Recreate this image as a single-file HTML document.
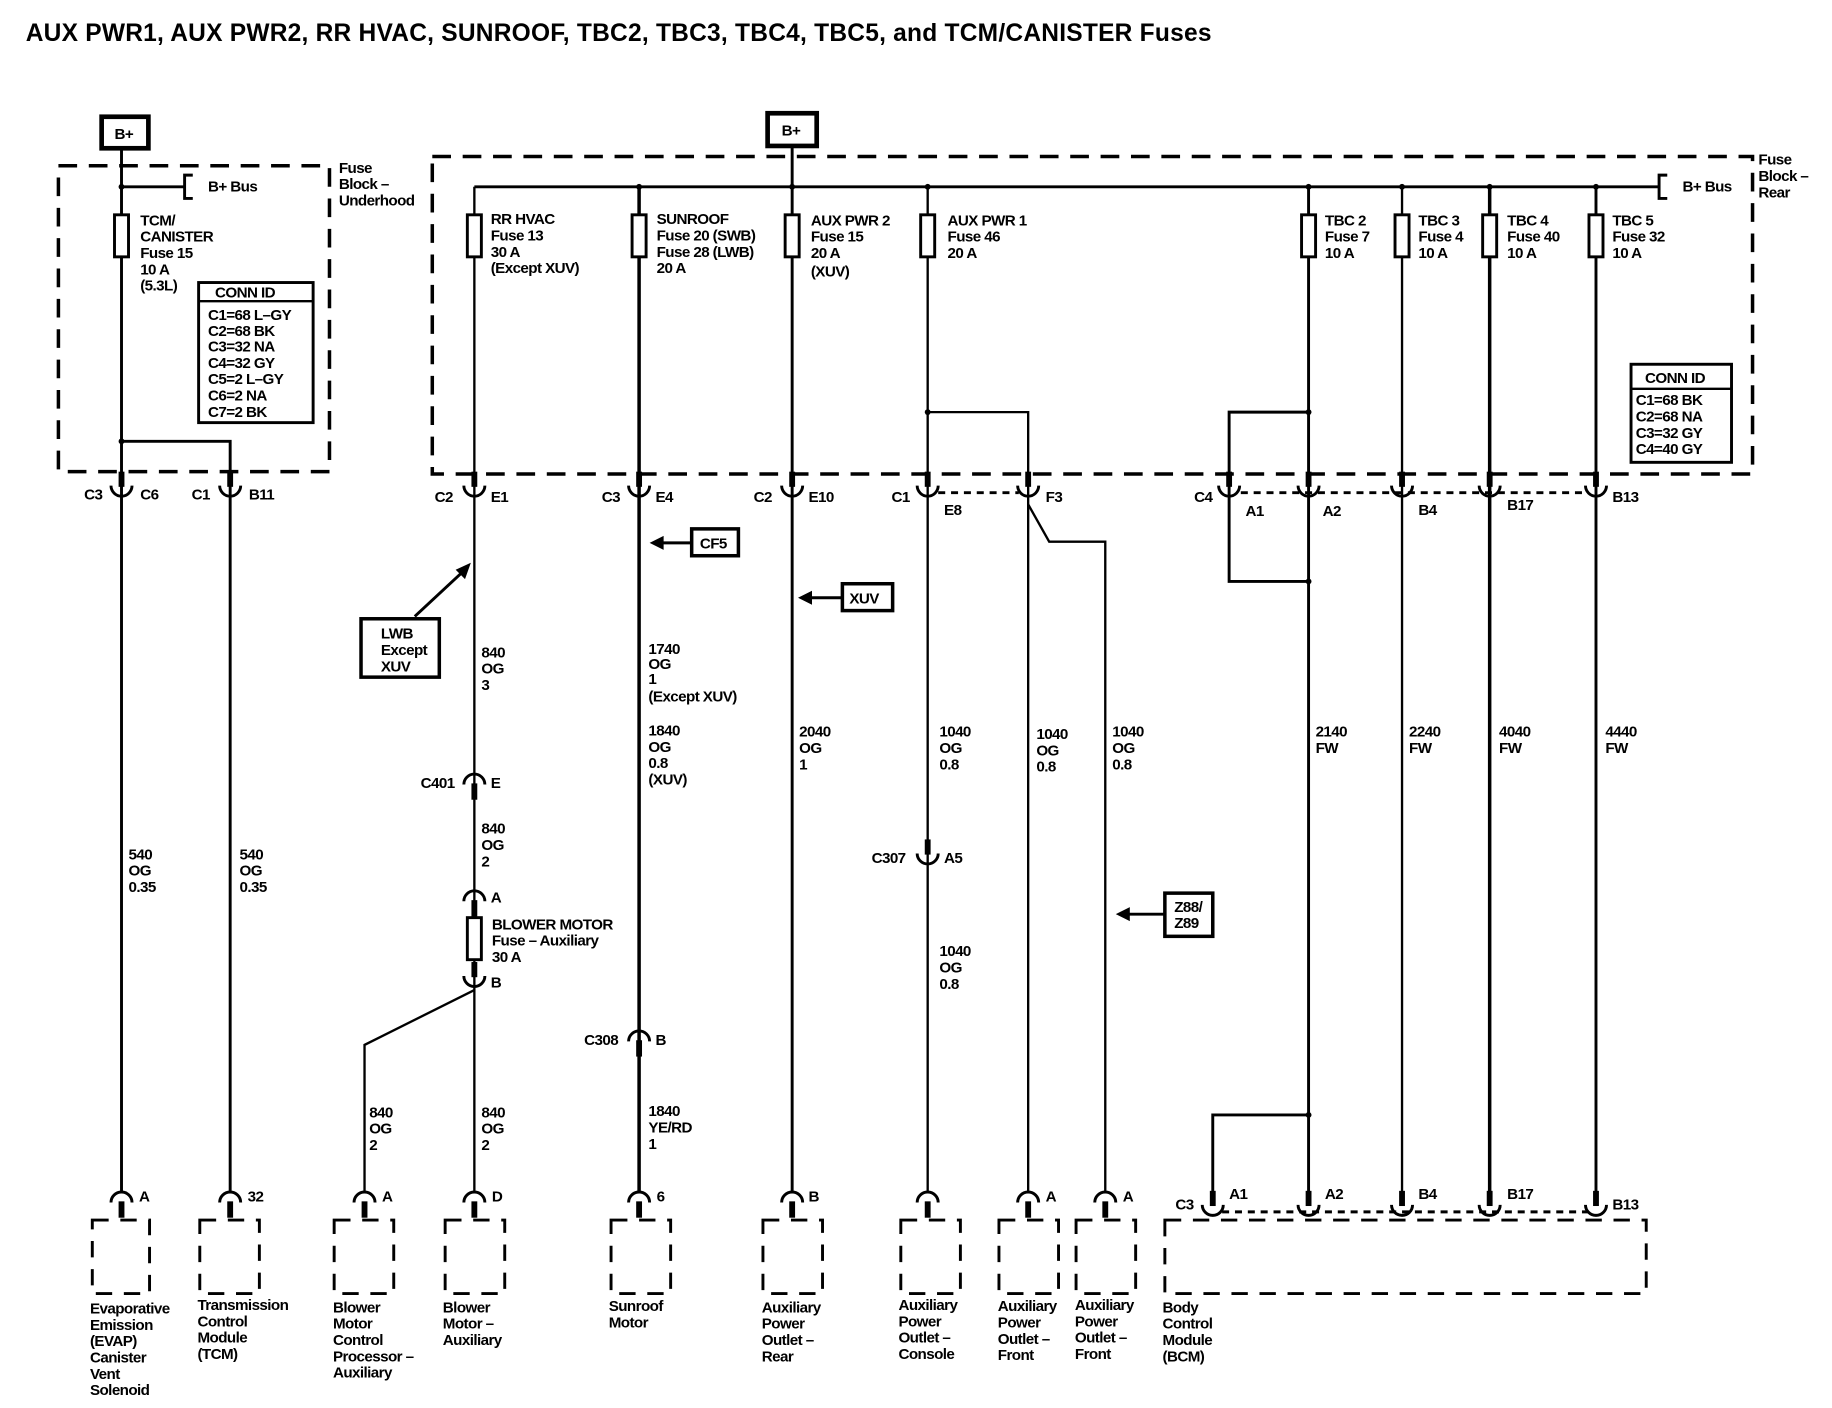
<!DOCTYPE html>
<html><head><meta charset="utf-8"><style>
html,body{margin:0;padding:0;background:#fff}
svg{display:block}
text{font-family:"Liberation Sans",sans-serif;font-size:13px;font-weight:bold;fill:#000;letter-spacing:-0.5px}
.t{font-size:21px;font-weight:bold;letter-spacing:0.2px}
</style></head><body>
<svg width="1832" height="1408" viewBox="0 0 1568 1206" preserveAspectRatio="none" xmlns="http://www.w3.org/2000/svg">
<defs>
<g id="cup"><rect x="-2.5" y="-16" width="5" height="13" fill="#000"/><path d="M-9,-4 A9 9 0 0 0 9,-4" fill="none" stroke="#000" stroke-width="2.5"/></g>
<g id="cap"><path d="M-9,4 A9 9 0 0 1 9,4" fill="none" stroke="#000" stroke-width="2.5"/><rect x="-2.5" y="3" width="5" height="14" fill="#000"/></g>
<g id="fuse"><rect x="-6" y="0" width="12" height="36" fill="#fff" stroke="#000" stroke-width="2.5"/></g>
</defs>
<text x="22" y="35" class="t">AUX PWR1, AUX PWR2, RR HVAC, SUNROOF, TBC2, TBC3, TBC4, TBC5, and TCM/CANISTER Fuses</text>

<rect x="87" y="100" width="40" height="27" fill="#fff" stroke="#000" stroke-width="4"/>
<text x="98" y="119">B+</text>
<rect x="657" y="97" width="42" height="28" fill="#fff" stroke="#000" stroke-width="4"/>
<text x="669" y="116">B+</text>

<g fill="none" stroke="#000">
<rect x="50" y="142" width="232" height="262" stroke-width="3" stroke-dasharray="16 10"/>
<rect x="370" y="134" width="1130" height="272" stroke-width="3" stroke-dasharray="16 10"/>
<path d="M104,127 V1022 M104,160 H158 M165,150 H158 V170 H165 M104,378 H197 V1022" stroke-width="2.5"/>
<path d="M678,125 V1022 M406,160 H1420 M1427,150 H1420 V170 H1427" stroke-width="2.5"/>
<path d="M406,160 V1022" stroke-width="2"/>
<path d="M547,160 V1022" stroke-width="3"/>
<path d="M794,160 V1022 M794,353 H880 V1022" stroke-width="2"/>
<path d="M880,432 L898,464 H946 V1022" stroke-width="2"/>
<path d="M1120,160 V1030 M1120,353 H1052 V498 H1120 M1120,955 H1038 V1030" stroke-width="2.5"/>
<path d="M1200,160 V1030" stroke-width="2"/>
<path d="M1275,160 V1030" stroke-width="3"/>
<path d="M1366,160 V1030" stroke-width="2.5"/>
<path d="M406,848 L312,895 V1022" stroke-width="2"/>
<path d="M803,422 H872 M1062,422 H1360" stroke-width="2.5" stroke-dasharray="6 5"/>
<path d="M1046,1038 H1360" stroke-width="2.5" stroke-dasharray="6 5"/>
<rect x="170" y="242" width="98" height="120" stroke-width="2.5"/><path d="M170,258 H268" stroke-width="2"/>
<rect x="1396" y="312" width="86" height="84" stroke-width="2.5"/><path d="M1396,333 H1482" stroke-width="2"/>
<g stroke-width="2.5" stroke-dasharray="14 10">
<rect x="79" y="1045" width="49" height="63"/>
<rect x="171" y="1045" width="51" height="63"/>
<rect x="286" y="1045" width="51" height="63"/>
<rect x="381" y="1045" width="51" height="63"/>
<rect x="523" y="1045" width="51" height="63"/>
<rect x="653" y="1045" width="51" height="63"/>
<rect x="771" y="1045" width="51" height="63"/>
<rect x="855" y="1045" width="51" height="63"/>
<rect x="921" y="1045" width="51" height="63"/>
<rect x="997" y="1045" width="412" height="63"/>
</g>
<rect x="309" y="530" width="67" height="50" stroke-width="3"/>
<rect x="592" y="453" width="40" height="23" stroke-width="3"/>
<rect x="721" y="500" width="43" height="23" stroke-width="3"/>
<rect x="997" y="765" width="41" height="37" stroke-width="3"/>
<path d="M355,528 L398,488 M592,465 H565 M721,512 H692 M997,783 H965" stroke-width="2.5"/>
</g>
<g fill="#000">
<polygon points="403,482 390,488 398,496"/>
<polygon points="556,465 568,459 568,471"/>
<polygon points="683,512 695,506 695,518"/>
<polygon points="955,783 967,777 967,789"/>
<circle cx="104" cy="160" r="2.5"/><circle cx="104" cy="378" r="2.5"/>
<circle cx="547" cy="160" r="2.5"/><circle cx="678" cy="160" r="2.5"/><circle cx="794" cy="160" r="2.5"/>
<circle cx="1120" cy="160" r="2.5"/><circle cx="1200" cy="160" r="2.5"/><circle cx="1275" cy="160" r="2.5"/><circle cx="1366" cy="160" r="2.5"/>
<circle cx="794" cy="353" r="2.5"/><circle cx="1120" cy="353" r="2.5"/><circle cx="1120" cy="498" r="2.5"/><circle cx="1120" cy="955" r="2.5"/>
</g>
<use href="#fuse" x="104" y="184"/><use href="#fuse" x="406" y="184"/><use href="#fuse" x="547" y="184"/>
<use href="#fuse" x="678" y="184"/><use href="#fuse" x="794" y="184"/><use href="#fuse" x="1120" y="184"/>
<use href="#fuse" x="1200" y="184"/><use href="#fuse" x="1275" y="184"/><use href="#fuse" x="1366" y="184"/>
<use href="#fuse" x="406" y="786"/>
<use href="#cup" x="104" y="420"/><use href="#cup" x="197" y="420"/><use href="#cup" x="406" y="420"/>
<use href="#cup" x="547" y="420"/><use href="#cup" x="678" y="420"/><use href="#cup" x="794" y="420"/>
<use href="#cup" x="880" y="420"/><use href="#cup" x="1052" y="420"/><use href="#cup" x="1120" y="420"/>
<use href="#cup" x="1200" y="420"/><use href="#cup" x="1275" y="420"/><use href="#cup" x="1366" y="420"/>
<use href="#cup" x="406" y="840"/><use href="#cup" x="794" y="735"/>
<use href="#cap" x="406" y="668"/><use href="#cap" x="406" y="768"/><use href="#cap" x="547" y="888"/>
<use href="#cap" x="104" y="1026"/><use href="#cap" x="197" y="1026"/><use href="#cap" x="312" y="1026"/>
<use href="#cap" x="406" y="1026"/><use href="#cap" x="547" y="1026"/><use href="#cap" x="678" y="1026"/>
<use href="#cap" x="794" y="1026"/><use href="#cap" x="880" y="1026"/><use href="#cap" x="946" y="1026"/>
<use href="#cup" x="1038" y="1036"/><use href="#cup" x="1120" y="1036"/><use href="#cup" x="1200" y="1036"/>
<use href="#cup" x="1275" y="1036"/><use href="#cup" x="1366" y="1036"/>

<text x="178" y="164">B+ Bus</text>
<text x="1440" y="164">B+ Bus</text>
<text x="290" y="148">Fuse</text><text x="290" y="162">Block –</text><text x="290" y="176">Underhood</text>
<text x="1505" y="141">Fuse</text><text x="1505" y="155">Block –</text><text x="1505" y="169">Rear</text>
<text x="120" y="193">TCM/</text><text x="120" y="207">CANISTER</text><text x="120" y="221">Fuse 15</text><text x="120" y="235">10 A</text><text x="120" y="249">(5.3L)</text>
<text x="184" y="255">CONN ID</text>
<text x="178" y="274">C1=68 L–GY</text><text x="178" y="288">C2=68 BK</text><text x="178" y="301">C3=32 NA</text><text x="178" y="315">C4=32 GY</text><text x="178" y="329">C5=2 L–GY</text><text x="178" y="343">C6=2 NA</text><text x="178" y="357">C7=2 BK</text>
<text x="1408" y="328">CONN ID</text>
<text x="1400" y="347">C1=68 BK</text><text x="1400" y="361">C2=68 NA</text><text x="1400" y="375">C3=32 GY</text><text x="1400" y="389">C4=40 GY</text>

<text x="420" y="192">RR HVAC</text><text x="420" y="206">Fuse 13</text><text x="420" y="220">30 A</text><text x="420" y="234">(Except XUV)</text>
<text x="562" y="192">SUNROOF</text><text x="562" y="206">Fuse 20 (SWB)</text><text x="562" y="220">Fuse 28 (LWB)</text><text x="562" y="234">20 A</text>
<text x="694" y="193">AUX PWR 2</text><text x="694" y="207">Fuse 15</text><text x="694" y="221">20 A</text><text x="694" y="237">(XUV)</text>
<text x="811" y="193">AUX PWR 1</text><text x="811" y="207">Fuse 46</text><text x="811" y="221">20 A</text>
<text x="1134" y="193">TBC 2</text><text x="1134" y="207">Fuse 7</text><text x="1134" y="221">10 A</text>
<text x="1214" y="193">TBC 3</text><text x="1214" y="207">Fuse 4</text><text x="1214" y="221">10 A</text>
<text x="1290" y="193">TBC 4</text><text x="1290" y="207">Fuse 40</text><text x="1290" y="221">10 A</text>
<text x="1380" y="193">TBC 5</text><text x="1380" y="207">Fuse 32</text><text x="1380" y="221">10 A</text>

<text x="72" y="428">C3</text><text x="120" y="428">C6</text>
<text x="164" y="428">C1</text><text x="213" y="428">B11</text>
<text x="372" y="430">C2</text><text x="420" y="430">E1</text>
<text x="515" y="430">C3</text><text x="561" y="430">E4</text>
<text x="645" y="430">C2</text><text x="692" y="430">E10</text>
<text x="763" y="430">C1</text><text x="808" y="441">E8</text>
<text x="895" y="430">F3</text>
<text x="1022" y="430">C4</text><text x="1066" y="442">A1</text><text x="1132" y="442">A2</text>
<text x="1214" y="441">B4</text><text x="1290" y="437">B17</text><text x="1380" y="430">B13</text>

<text x="599" y="470">CF5</text>
<text x="727" y="517">XUV</text>
<text x="326" y="547">LWB</text><text x="326" y="561">Except</text><text x="326" y="575">XUV</text>
<text x="1005" y="781">Z88/</text><text x="1005" y="795">Z89</text>

<text x="412" y="563">840</text><text x="412" y="577">OG</text><text x="412" y="591">3</text>
<text x="360" y="675">C401</text><text x="420" y="675">E</text>
<text x="412" y="714">840</text><text x="412" y="728">OG</text><text x="412" y="742">2</text>
<text x="420" y="773">A</text>
<text x="421" y="796">BLOWER MOTOR</text><text x="421" y="810">Fuse – Auxiliary</text><text x="421" y="824">30 A</text>
<text x="420" y="846">B</text>
<text x="316" y="957">840</text><text x="316" y="971">OG</text><text x="316" y="985">2</text>
<text x="412" y="957">840</text><text x="412" y="971">OG</text><text x="412" y="985">2</text>
<text x="110" y="736">540</text><text x="110" y="750">OG</text><text x="110" y="764">0.35</text>
<text x="205" y="736">540</text><text x="205" y="750">OG</text><text x="205" y="764">0.35</text>

<text x="555" y="560">1740</text><text x="555" y="573">OG</text><text x="555" y="586">1</text><text x="555" y="601">(Except XUV)</text>
<text x="555" y="630">1840</text><text x="555" y="644">OG</text><text x="555" y="658">0.8</text><text x="555" y="672">(XUV)</text>
<text x="500" y="895">C308</text><text x="561" y="895">B</text>
<text x="555" y="956">1840</text><text x="555" y="970">YE/RD</text><text x="555" y="984">1</text>

<text x="684" y="631">2040</text><text x="684" y="645">OG</text><text x="684" y="659">1</text>
<text x="804" y="631">1040</text><text x="804" y="645">OG</text><text x="804" y="659">0.8</text>
<text x="746" y="739">C307</text><text x="808" y="739">A5</text>
<text x="804" y="819">1040</text><text x="804" y="833">OG</text><text x="804" y="847">0.8</text>
<text x="887" y="633">1040</text><text x="887" y="647">OG</text><text x="887" y="661">0.8</text>
<text x="952" y="631">1040</text><text x="952" y="645">OG</text><text x="952" y="659">0.8</text>
<text x="1126" y="631">2140</text><text x="1126" y="645">FW</text>
<text x="1206" y="631">2240</text><text x="1206" y="645">FW</text>
<text x="1283" y="631">4040</text><text x="1283" y="645">FW</text>
<text x="1374" y="631">4440</text><text x="1374" y="645">FW</text>

<text x="119" y="1029">A</text><text x="212" y="1029">32</text><text x="327" y="1029">A</text><text x="421" y="1029">D</text>
<text x="562" y="1029">6</text><text x="692" y="1029">B</text><text x="895" y="1029">A</text><text x="961" y="1029">A</text>
<text x="1006" y="1036">C3</text><text x="1052" y="1027">A1</text><text x="1134" y="1027">A2</text><text x="1214" y="1027">B4</text><text x="1290" y="1027">B17</text><text x="1380" y="1036">B13</text>

<text x="77" y="1125">Evaporative</text><text x="77" y="1139">Emission</text><text x="77" y="1153">(EVAP)</text><text x="77" y="1167">Canister</text><text x="77" y="1181">Vent</text><text x="77" y="1195">Solenoid</text>
<text x="169" y="1122">Transmission</text><text x="169" y="1136">Control</text><text x="169" y="1150">Module</text><text x="169" y="1164">(TCM)</text>
<text x="285" y="1124">Blower</text><text x="285" y="1138">Motor</text><text x="285" y="1152">Control</text><text x="285" y="1166">Processor –</text><text x="285" y="1180">Auxiliary</text>
<text x="379" y="1124">Blower</text><text x="379" y="1138">Motor –</text><text x="379" y="1152">Auxiliary</text>
<text x="521" y="1123">Sunroof</text><text x="521" y="1137">Motor</text>
<text x="652" y="1124">Auxiliary</text><text x="652" y="1138">Power</text><text x="652" y="1152">Outlet –</text><text x="652" y="1166">Rear</text>
<text x="769" y="1122">Auxiliary</text><text x="769" y="1136">Power</text><text x="769" y="1150">Outlet –</text><text x="769" y="1164">Console</text>
<text x="854" y="1123">Auxiliary</text><text x="854" y="1137">Power</text><text x="854" y="1151">Outlet –</text><text x="854" y="1165">Front</text>
<text x="920" y="1122">Auxiliary</text><text x="920" y="1136">Power</text><text x="920" y="1150">Outlet –</text><text x="920" y="1164">Front</text>
<text x="995" y="1124">Body</text><text x="995" y="1138">Control</text><text x="995" y="1152">Module</text><text x="995" y="1166">(BCM)</text>
</svg>
</body></html>
